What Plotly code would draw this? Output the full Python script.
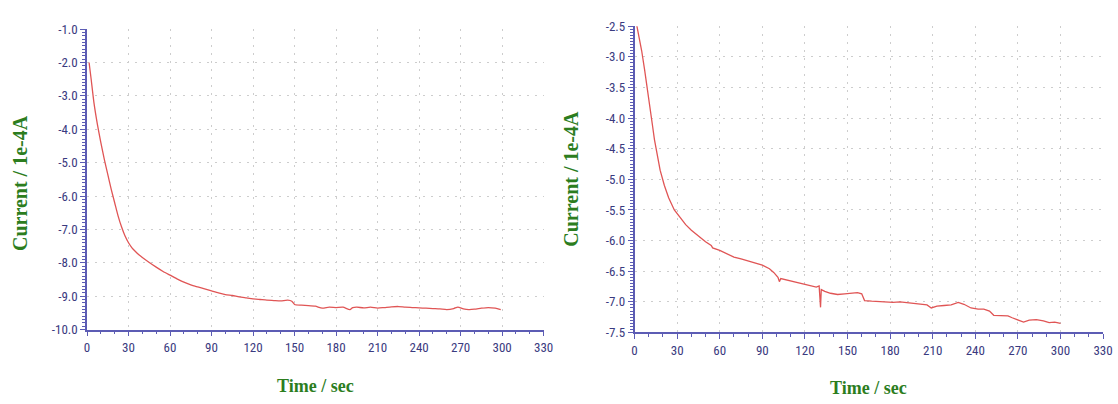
import plotly.graph_objects as go

# ---------------- data ----------------
t_left = [1.5, 3, 5, 7.5, 10, 12.5, 15, 17.5, 20, 22.5, 25, 27.5, 30, 32.5, 35, 37.5, 40, 45, 50,
          55, 60, 65, 70, 75, 78, 80, 85, 90, 95, 100, 105, 110, 115, 120, 125, 130, 135, 140,
          145, 148, 150, 155, 160, 165, 170, 175, 180, 185, 190, 192, 195, 200, 205, 210, 215,
          220, 225, 230, 235, 240, 245, 250, 255, 260, 265, 268, 272, 276, 280, 285, 290, 295, 299]
i_left = [-2.0, -2.5, -3.2, -3.85, -4.4, -4.9, -5.35, -5.8, -6.2, -6.6, -6.93, -7.2, -7.4, -7.55,
          -7.66, -7.76, -7.84, -7.99, -8.13, -8.26, -8.37, -8.48, -8.58, -8.66, -8.7, -8.72,
          -8.78, -8.84, -8.9, -8.95, -8.98, -9.02, -9.05, -9.08, -9.1, -9.12, -9.13, -9.14,
          -9.12, -9.15, -9.25, -9.27, -9.28, -9.3, -9.36, -9.33, -9.34, -9.33, -9.4, -9.34,
          -9.33, -9.35, -9.33, -9.36, -9.34, -9.32, -9.31, -9.33, -9.34, -9.35, -9.36, -9.37,
          -9.38, -9.4, -9.37, -9.33, -9.38, -9.4, -9.39, -9.36, -9.34, -9.36, -9.4]

t_right = [1.5, 3, 5, 7, 9, 11, 12.5, 14, 16, 18, 21, 24, 28, 32, 36, 40, 45, 50, 54, 55, 60, 65,
           70, 75, 80, 85, 90, 95, 98, 101, 102, 103, 108, 113, 118, 123, 128, 130, 131, 131.5,
           134, 138, 143, 148, 153, 157, 160, 162, 167, 172, 177, 182, 187, 192, 197, 202, 206,
           209, 213, 218, 223, 228, 232, 237, 242, 246, 250, 253, 258, 263, 266, 270, 274, 278,
           283, 288, 292, 296, 300]
i_right = [-2.48, -2.65, -2.9, -3.2, -3.5, -3.85, -4.1, -4.35, -4.62, -4.85, -5.1, -5.3, -5.5,
           -5.63, -5.74, -5.83, -5.93, -6.02, -6.08, -6.12, -6.16, -6.22, -6.27, -6.3, -6.33,
           -6.36, -6.4, -6.46, -6.52, -6.6, -6.67, -6.62, -6.65, -6.68, -6.7, -6.73, -6.76, -6.74,
           -7.09, -6.8, -6.83, -6.86, -6.88, -6.87, -6.86, -6.85, -6.87, -6.98, -6.99, -7.0, -7.0,
           -7.01, -7.0, -7.01, -7.02, -7.04, -7.05, -7.1, -7.07, -7.06, -7.05, -7.01, -7.04, -7.1,
           -7.12, -7.12, -7.15, -7.22, -7.22, -7.23, -7.26, -7.3, -7.33, -7.3, -7.29, -7.31,
           -7.34, -7.33, -7.35]

x_ticks = [0, 30, 60, 90, 120, 150, 180, 210, 240, 270, 300, 330]
y_ticks_left = [-10.0, -9.0, -8.0, -7.0, -6.0, -5.0, -4.0, -3.0, -2.0, -1.0]
y_ticks_right = [-7.5, -7.0, -6.5, -6.0, -5.5, -5.0, -4.5, -4.0, -3.5, -3.0, -2.5]

x_title = "Time / sec"
y_title = "Current / 1e-4A"

# ---------------- styling ----------------
W, H = 1118, 404
LINE_RED = "#e05555"
AXIS_BLUE = "#5c5cb4"
TICK_NAVY = "#3a3a80"
GRID = "#cdcdcd"
GREEN = "#2c7d1e"
TICK_FONT = dict(family="Liberation Sans Narrow, Roboto Condensed, Liberation Sans, Arial",
                 size=13, color=TICK_NAVY)
TITLE_FONT_X = dict(family="Liberation Serif, Times New Roman, serif", size=18, color=GREEN)
TITLE_FONT_Y = dict(family="Liberation Serif, Times New Roman, serif", size=20, color=GREEN)


def fmt(v):
    return f"{v:.1f}".replace("\u2212", "-")


fig = go.Figure()
fig.add_trace(go.Scatter(x=t_left, y=i_left, mode="lines", xaxis="x", yaxis="y",
                         line=dict(color=LINE_RED, width=1.3, shape="spline", smoothing=0.6),
                         showlegend=False))
fig.add_trace(go.Scatter(x=t_right, y=i_right, mode="lines", xaxis="x2", yaxis="y2",
                         line=dict(color=LINE_RED, width=1.3), showlegend=False))


def xaxis(domain, anchor):
    return dict(domain=domain, anchor=anchor, range=[0, 330],
                tickvals=x_ticks, ticktext=[str(v) for v in x_ticks],
                showline=True, linecolor=AXIS_BLUE, linewidth=1.5,
                ticks="outside", ticklen=5, tickcolor=AXIS_BLUE, tickwidth=1,
                minor=dict(dtick=10, tick0=0, ticks="outside", ticklen=3,
                           tickcolor=AXIS_BLUE, showgrid=False),
                showgrid=True, gridcolor=GRID, griddash="2px,6px", gridwidth=1,
                zeroline=False, tickfont=TICK_FONT, fixedrange=True)


def yaxis(domain, anchor, ticks, rng, minor_dtick):
    return dict(domain=domain, anchor=anchor, range=rng,
                tickvals=ticks, ticktext=[fmt(v) for v in ticks],
                showline=True, linecolor=AXIS_BLUE, linewidth=1.5,
                ticks="outside", ticklen=5, tickcolor=AXIS_BLUE, tickwidth=1,
                minor=dict(dtick=minor_dtick, tick0=rng[0], ticks="outside", ticklen=3,
                           tickcolor=AXIS_BLUE, showgrid=False),
                showgrid=True, gridcolor=GRID, griddash="2px,6px", gridwidth=1,
                zeroline=False, tickfont=TICK_FONT, fixedrange=True)


fig.update_layout(
    width=W, height=H,
    margin=dict(l=0, r=0, t=0, b=0),
    paper_bgcolor="white", plot_bgcolor="white",
    xaxis=xaxis([85 / W, 547 / W], "y"),
    yaxis=yaxis([(H - 335) / H, (H - 23) / H], "x", y_ticks_left, [-10, -1], 0.1),
    xaxis2=xaxis([639 / W, 1113 / W], "y2"),
    yaxis2=yaxis([(H - 338) / H, (H - 20) / H], "x2", y_ticks_right, [-7.5, -2.5], 0.05),
    annotations=[
        dict(text=f"<b>{y_title}</b>", x=17 / W, y=(H - 183) / H, xref="paper", yref="paper",
             textangle=-90, showarrow=False, font=TITLE_FONT_Y, xanchor="center", yanchor="middle"),
        dict(text=f"<b>{y_title}</b>", x=575 / W, y=(H - 178) / H, xref="paper", yref="paper",
             textangle=-90, showarrow=False, font=TITLE_FONT_Y, xanchor="center", yanchor="middle"),
        dict(text=f"<b>{x_title}</b>", x=316 / W, y=(H - 394) / H, xref="paper", yref="paper",
             showarrow=False, font=TITLE_FONT_X, xanchor="center", yanchor="middle"),
        dict(text=f"<b>{x_title}</b>", x=876 / W, y=(H - 396) / H, xref="paper", yref="paper",
             showarrow=False, font=TITLE_FONT_X, xanchor="center", yanchor="middle"),
    ],
)

fig.write_html("out.html")
